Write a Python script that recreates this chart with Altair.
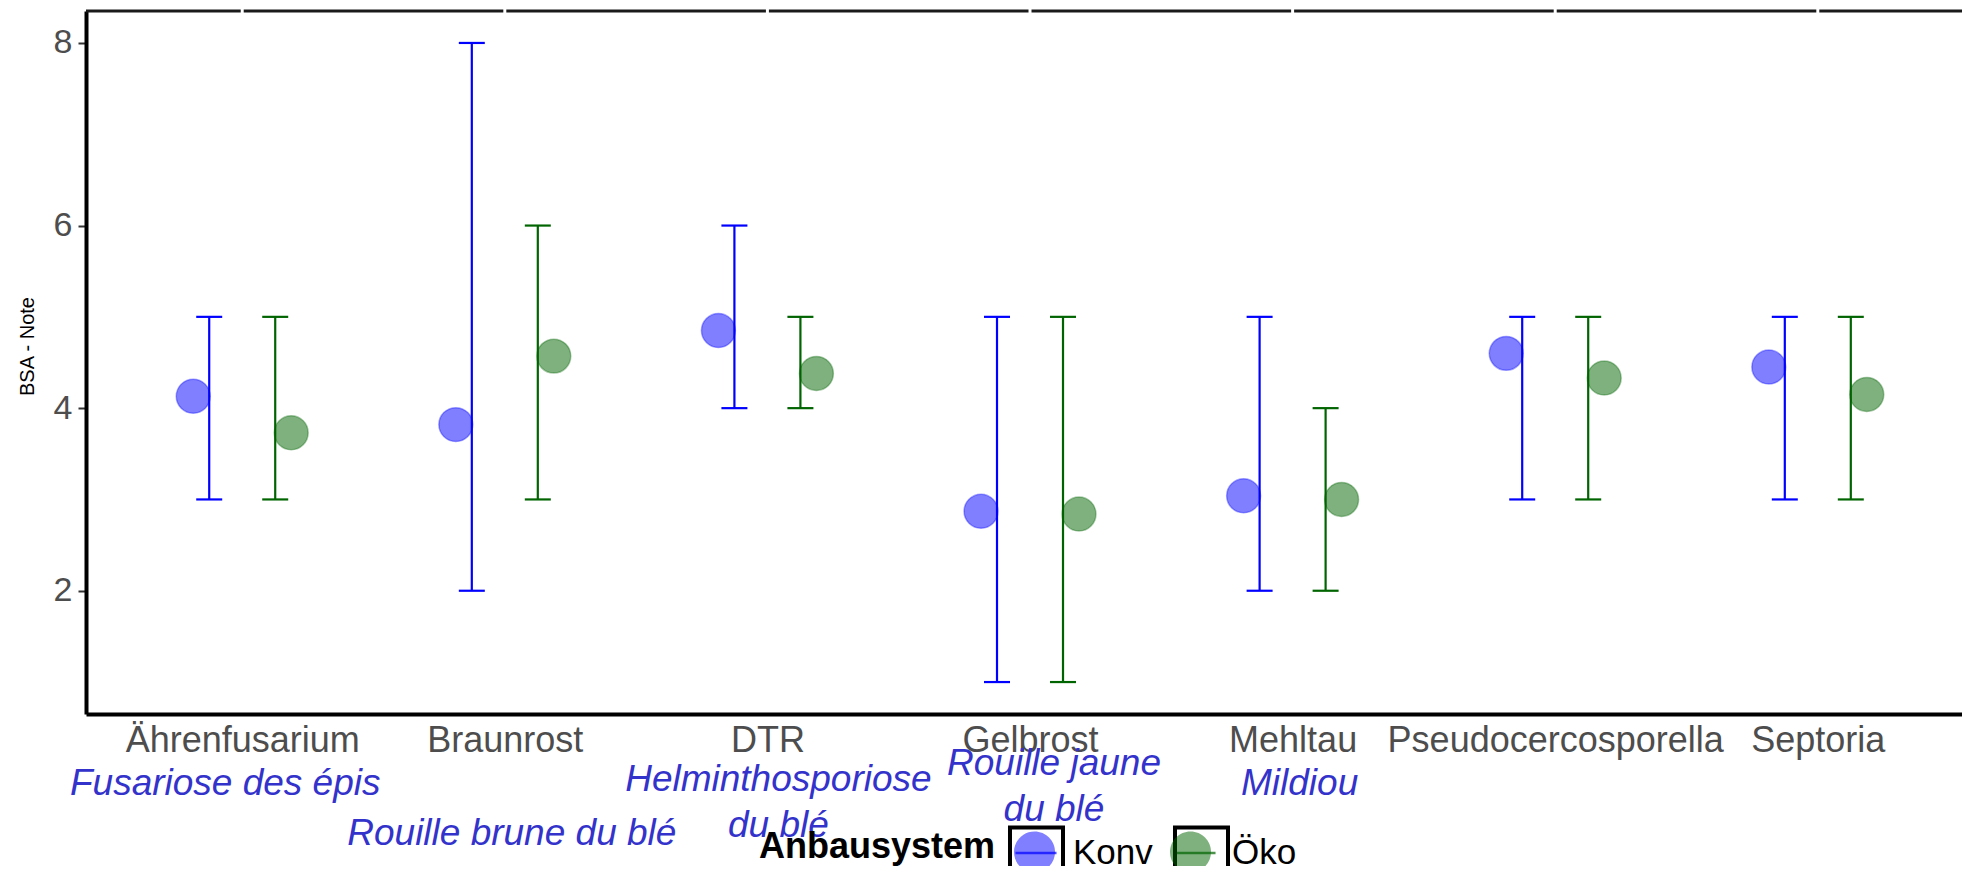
import altair as alt
import pandas as pd

# ---------------- data ----------------
categories = ["Ährenfusarium", "Braunrost", "DTR", "Gelbrost", "Mehltau",
              "Pseudocercosporella", "Septoria"]
systems = ["Konv", "Öko"]
konv_mean = [4.13, 3.82, 4.85, 2.87, 3.04, 4.60, 4.45]
oeko_mean = [3.73, 4.57, 4.38, 2.84, 3.00, 4.33, 4.15]
konv_lo = [3, 2, 4, 1, 2, 3, 3]
konv_hi = [5, 8, 6, 5, 5, 5, 5]
oeko_lo = [3, 3, 4, 1, 2, 3, 3]
oeko_hi = [5, 6, 5, 5, 4, 5, 5]
y_ticks = [2, 4, 6, 8]
french_targets = ["Ährenfusarium", "Braunrost", "DTR", "Gelbrost", "Mehltau"]
french_labels = ["Fusariose des épis", "Rouille brune du blé",
                 "Helminthosporiose\ndu blé", "Rouille jaune\ndu blé", "Mildiou"]

rows = []
for i, c in enumerate(categories):
    rows.append(dict(Krankheit=c, Anbausystem=systems[0], mean=konv_mean[i],
                     lo=konv_lo[i], hi=konv_hi[i]))
    rows.append(dict(Krankheit=c, Anbausystem=systems[1], mean=oeko_mean[i],
                     lo=oeko_lo[i], hi=oeko_hi[i]))
df = pd.DataFrame(rows)
cat_df = pd.DataFrame({"Krankheit": categories})

# ---------------- layout / style ----------------
W, H = 1876, 703
FONT = "Liberation Sans"
colors = ["#0000ff", "#006400"]
french_color = "#3333cc"
# (dx from category centre, y of first line in px from plot top) per French label
french_layout = [(-17, 773), (7, 823), (11, 769), (24, 753), (7, 773)]

x_scale = alt.Scale(domain=categories, type="point", padding=0.572, align=0.52)
y_scale = alt.Scale(domain=[0.65, 8.35], nice=False, zero=False)

x_axis = alt.Axis(title=None, labelFont=FONT, labelFontSize=36, labelColor="#4d4d4d",
                  labelAngle=0, ticks=False, domainColor="black", domainWidth=4,
                  labelPadding=9, labelLimit=600, grid=False)
y_axis = alt.Axis(title="BSA - Note", titleFont=FONT, titleFontSize=20,
                  titleFontWeight="normal", titleColor="black", titleAngle=270,
                  titleBaseline="bottom", titleAlign="center", titleX=-49, titleY=335,
                  labelFont=FONT, labelFontSize=34, labelColor="#4d4d4d",
                  tickColor="#333333", tickWidth=2, tickSize=8, labelPadding=6,
                  domainColor="black", domainWidth=4, values=y_ticks, format="d",
                  grid=False)

legend_common = dict(orient="none", legendX=673, legendY=812, direction="horizontal",
                     titleOrient="left", title="Anbausystem", titleFont=FONT,
                     titleFontSize=36, titleFontWeight="bold", titleAnchor="middle",
                     titleBaseline="middle", titleLimit=600, labelLimit=300,
                     labelFont=FONT, labelFontSize=35,
                     symbolSize=3249, columnPadding=12, labelOffset=7,
                     titlePadding=10, padding=0)

LINE_PATH = "M-0.72,0L0.72,0"
CIRCLE_PATH = "M-0.72,0A0.72,0.72,0,1,1,0.72,0A0.72,0.72,0,1,1,-0.72,0Z"
BOX_PATH = "M-0.93,-0.93L0.93,-0.93L0.93,0.93L-0.93,0.93Z"

err_off = alt.XOffset("Anbausystem:N",
                      scale=alt.Scale(type="point", range=[-33, 33], padding=0))
pt_off = alt.XOffset("Anbausystem:N",
                     scale=alt.Scale(type="point", range=[-49, 49], padding=0))

color_enc = alt.Color("Anbausystem:N", scale=alt.Scale(range=colors),
                      legend=alt.Legend(**legend_common, symbolType=LINE_PATH,
                                        symbolStrokeWidth=2.5,
                                        symbolFillColor="transparent",
                                        labelColor="black", titleColor="black"))
opacity_enc = alt.Opacity("box_key:N", scale=alt.Scale(range=[1, 1]),
                          legend=alt.Legend(**legend_common, symbolType=BOX_PATH,
                                            symbolStrokeColor="black",
                                            symbolStrokeWidth=4,
                                            symbolFillColor="transparent",
                                            labelColor="transparent",
                                            titleColor="transparent"))

err_base = alt.Chart(df).transform_calculate(box_key="datum.Anbausystem")

rules = err_base.mark_rule(strokeWidth=2.2).encode(
    x=alt.X("Krankheit:N", scale=x_scale, axis=x_axis),
    xOffset=err_off,
    y=alt.Y("lo:Q", scale=y_scale, axis=y_axis),
    y2="hi:Q",
    color=color_enc,
)
cap_lo = err_base.mark_tick(thickness=2.2, size=26).encode(
    x=alt.X("Krankheit:N", scale=x_scale),
    xOffset=err_off,
    y=alt.Y("lo:Q", scale=y_scale),
    color=color_enc,
    opacity=opacity_enc,
)
cap_hi = err_base.mark_tick(thickness=2.2, size=26).encode(
    x=alt.X("Krankheit:N", scale=x_scale),
    xOffset=err_off,
    y=alt.Y("hi:Q", scale=y_scale),
    color=color_enc,
    opacity=opacity_enc,
)
errorbars = alt.layer(rules, cap_lo, cap_hi)

points = alt.Chart(df).transform_calculate(fill_key="datum.Anbausystem").mark_circle(
    size=1150, opacity=1, fillOpacity=0.5, strokeOpacity=0.35, strokeWidth=1.5
).encode(
    x=alt.X("Krankheit:N", scale=x_scale),
    xOffset=pt_off,
    y=alt.Y("mean:Q", scale=y_scale),
    fill=alt.Fill("fill_key:N", scale=alt.Scale(range=colors),
                  legend=alt.Legend(**legend_common, symbolType=CIRCLE_PATH,
                                    symbolOpacity=0.5, symbolStrokeWidth=0,
                                    labelColor="transparent",
                                    titleColor="transparent")),
    stroke=alt.Stroke("fill_key:N", scale=alt.Scale(range=colors), legend=None),
)

top_line = alt.Chart(pd.DataFrame({"k": [0]})).mark_rule(
    color="#1a1a1a", strokeWidth=3
).encode(x=alt.value(0), x2=alt.value(W), y=alt.value(0))

top_gaps = alt.Chart(cat_df).mark_rule(color="white", strokeWidth=3).encode(
    x=alt.X("Krankheit:N", scale=x_scale),
    y=alt.value(-3), y2=alt.value(3),
)

texts = []
for cat, lab, (dx, ypx) in zip(french_targets, french_labels, french_layout):
    texts.append(
        alt.Chart(pd.DataFrame({"k": [0]})).mark_text(
            text=lab, lineBreak="\n", lineHeight=46, font=FONT, fontSize=37,
            fontStyle="italic", color=french_color, align="center",
            baseline="middle", dx=dx
        ).encode(x=alt.XDatum(cat, type="nominal", scale=x_scale), y=alt.value(ypx))
    )

chart = alt.layer(errorbars, points, top_line, top_gaps, *texts).resolve_scale(
    xOffset="independent"
).properties(
    width=W, height=H,
    autosize=alt.AutoSizeParams(type="none"),
    padding={"left": 78, "top": 3, "right": 0, "bottom": 152},
    background="white",
).configure_view(strokeWidth=0)

chart.save("out.html", embed_options={"renderer": "svg", "actions": False})
